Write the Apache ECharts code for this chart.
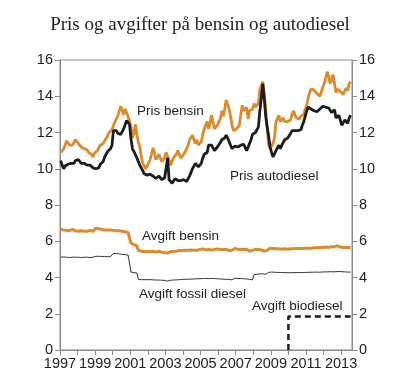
<!DOCTYPE html>
<html><head><meta charset="utf-8">
<script src="https://cdn.jsdelivr.net/npm/echarts@6/dist/echarts.min.js"></script>
<style>html,body{margin:0;padding:0;background:#fff}#c{width:400px;height:386px}</style>
</head><body><div id="c"></div>
<script>
// Monthly data, Jan 1997 - Jul 2013 (kr per litre)
var startYear = 1997;
var prisBensin = [
 10.9,10.95,11.1,11.3,11.55,11.5,11.3,11.35,11.3,11.45,11.6,11.5,
 11.4,11.3,11.2,11.25,11.1,11.0,11.05,10.9,10.95,10.8,10.65,10.85,
 10.9,11.0,11.15,11.3,11.25,11.4,11.55,11.6,11.8,12.0,12.05,12.15,
 12.2,12.6,12.5,12.9,13.2,13.45,13.2,13.0,13.3,13.1,12.9,12.6,
 12.3,11.7,11.95,12.45,11.9,11.5,11.2,10.7,10.3,10.2,10.0,10.1,
 10.3,10.5,10.8,11.15,10.9,10.5,10.6,10.8,10.7,10.4,10.3,10.6,
 10.9,10.8,10.5,10.2,10.3,10.6,10.5,10.8,11.0,10.8,10.6,10.7,
 10.8,10.9,11.1,11.3,11.6,11.7,11.85,11.6,11.4,11.6,11.3,11.25,
 11.5,11.9,12.2,12.15,12.6,12.2,12.5,12.95,12.6,12.2,12.1,12.4,
 12.6,12.75,13.2,12.9,13.3,13.8,13.75,13.3,12.9,12.4,12.1,12.15,
 12.2,12.3,12.4,13.0,13.5,13.2,13.3,13.4,12.75,13.2,13.1,13.3,
 13.6,13.4,13.3,13.6,14.35,14.6,14.8,14.1,13.3,12.2,11.3,11.1,
 11.2,11.4,11.7,12.6,12.7,12.95,12.6,12.5,12.8,12.6,12.5,12.6,
 12.65,12.7,13.0,13.2,12.95,12.8,12.7,12.75,12.9,12.85,13.0,13.3,
 13.5,13.9,14.2,14.4,14.45,14.35,14.3,14.15,14.2,14.0,14.1,14.5,
 14.7,15.0,15.35,15.1,14.7,14.9,15.2,14.7,14.2,14.4,14.35,14.25,
 14.2,14.1,14.3,14.45,14.3,14.7,14.8
];
var prisDiesel = [
 10.45,10.2,10.0,10.15,10.2,10.25,10.2,10.3,10.35,10.3,10.45,10.55,
 10.5,10.4,10.3,10.35,10.3,10.25,10.2,10.15,10.2,10.1,10.05,10.1,
 10.0,9.95,10.05,10.25,10.3,10.4,10.65,10.7,10.95,11.0,11.1,11.3,
 12.1,12.0,12.1,11.95,12.0,11.9,12.0,12.2,12.3,12.66,12.55,12.45,
 11.65,11.1,10.95,10.9,10.6,10.5,10.2,10.1,9.9,9.72,9.8,9.65,
 9.63,9.7,9.75,9.6,9.55,9.46,9.55,9.6,9.5,9.4,9.45,9.5,
 9.5,10.6,9.4,9.3,9.2,9.3,9.45,9.4,9.35,9.4,9.35,9.4,
 9.4,9.35,9.3,9.45,9.6,9.8,10.0,10.1,10.3,10.2,10.1,10.1,
 10.3,10.6,10.8,10.75,10.9,11.3,11.25,11.3,11.2,11.0,11.1,11.2,
 11.3,11.45,11.6,11.5,11.7,11.85,11.7,11.6,11.3,11.1,11.15,11.25,
 11.3,11.2,11.2,11.3,11.3,11.35,11.4,11.0,11.2,11.4,11.6,11.9,
 11.9,12.0,12.0,12.3,13.2,13.9,14.7,13.9,12.9,12.3,11.8,11.2,
 10.9,10.65,10.7,11.0,11.1,11.3,11.1,11.3,11.4,11.6,11.5,11.7,
 11.8,11.95,12.1,12.2,12.1,12.0,12.1,12.2,12.15,12.4,12.6,12.9,
 13.2,13.4,13.35,13.3,13.25,13.2,13.1,13.15,13.1,13.3,13.4,13.45,
 13.55,13.4,13.3,13.35,13.3,13.1,13.2,13.25,12.8,12.9,12.95,12.85,
 12.4,12.5,12.7,12.6,12.5,12.8,12.95
];
var avgiftBensin = [
 6.65,6.65,6.62,6.6,6.6,6.58,6.6,6.62,6.65,6.6,6.58,6.55,
 6.55,6.55,6.58,6.55,6.55,6.52,6.55,6.6,6.6,6.58,6.55,6.6,
 6.72,6.72,6.7,6.68,6.65,6.65,6.62,6.65,6.62,6.6,6.62,6.62,
 6.6,6.6,6.58,6.6,6.58,6.55,6.55,6.55,6.52,6.5,6.48,6.45,
 5.9,5.85,5.82,5.78,5.75,5.5,5.48,5.45,5.45,5.42,5.45,5.45,
 5.45,5.42,5.45,5.45,5.42,5.4,5.42,5.45,5.42,5.4,5.38,5.36,
 5.35,5.35,5.38,5.42,5.45,5.45,5.42,5.45,5.48,5.5,5.5,5.48,
 5.5,5.5,5.48,5.5,5.5,5.52,5.5,5.5,5.48,5.5,5.52,5.55,
 5.6,5.58,5.55,5.52,5.55,5.55,5.5,5.52,5.55,5.55,5.55,5.58,
 5.55,5.55,5.58,5.55,5.52,5.55,5.5,5.48,5.45,5.5,5.55,5.6,
 5.58,5.55,5.55,5.55,5.52,5.55,5.58,5.55,5.5,5.45,5.48,5.5,
 5.55,5.55,5.52,5.55,5.55,5.52,5.5,5.45,5.45,5.5,5.6,5.62,
 5.62,5.6,5.6,5.58,5.58,5.58,5.58,5.56,5.56,5.58,5.58,5.56,
 5.56,5.58,5.6,5.58,5.6,5.6,5.58,5.6,5.6,5.6,5.62,5.62,
 5.62,5.62,5.6,5.62,5.62,5.64,5.62,5.64,5.64,5.65,5.65,5.65,
 5.66,5.68,5.68,5.66,5.68,5.7,5.72,5.7,5.72,5.75,5.72,5.68,
 5.65,5.65,5.66,5.65,5.64,5.65,5.65
];
var avgiftFossil = [
 5.13,5.13,5.13,5.12,5.12,5.1,5.1,5.12,5.12,5.12,5.12,5.12,
 5.12,5.1,5.1,5.1,5.12,5.12,5.12,5.1,5.1,5.1,5.12,5.12,
 5.17,5.17,5.17,5.16,5.16,5.16,5.15,5.15,5.15,5.15,5.15,5.15,
 5.33,5.32,5.32,5.3,5.3,5.28,5.28,5.26,5.26,5.25,5.24,5.22,
 4.3,4.28,4.27,4.26,4.25,3.9,3.9,3.88,3.88,3.88,3.88,3.88,
 3.88,3.88,3.87,3.87,3.86,3.86,3.87,3.86,3.86,3.85,3.85,3.84,
 3.82,3.8,3.82,3.85,3.86,3.86,3.87,3.87,3.88,3.88,3.9,3.9,
 3.9,3.9,3.9,3.91,3.91,3.91,3.92,3.92,3.92,3.93,3.93,3.93,
 3.94,3.94,3.95,3.95,3.94,3.94,3.95,3.95,3.94,3.94,3.93,3.93,
 3.93,3.92,3.92,3.91,3.91,3.9,3.9,3.9,3.88,3.87,3.9,3.96,
 3.95,3.95,3.94,3.94,3.94,3.93,3.93,3.92,3.92,3.9,3.88,3.87,
 4.15,4.17,4.18,4.18,4.2,4.22,4.2,4.15,4.18,4.28,4.28,4.3,
 4.3,4.3,4.29,4.28,4.28,4.28,4.28,4.27,4.27,4.27,4.27,4.26,
 4.26,4.26,4.27,4.27,4.27,4.28,4.27,4.27,4.27,4.28,4.28,4.28,
 4.28,4.28,4.29,4.29,4.29,4.3,4.3,4.3,4.29,4.29,4.3,4.3,
 4.31,4.31,4.31,4.32,4.32,4.32,4.31,4.31,4.32,4.33,4.33,4.32,
 4.32,4.32,4.31,4.3,4.3,4.3,4.3
];
var bioDates = [2010.0, 2010.0, 2013.54];
var bioValues = [0, 1.85, 1.85];
var yTicks = [0, 2, 4, 6, 8, 10, 12, 14, 16];

function monthly(arr) {
  return arr.map(function (v, i) { return [startYear + (i + 0.5) / 12, v]; });
}
var bioData = bioDates.map(function (d, i) { return [d, bioValues[i]]; });

var ORANGE = '#dc8a2c', BLACK = '#1c1c1c', GREY = '#8a8a8a';
var FONT = 'Liberation Sans, Arial, sans-serif';

function lbl(text, x, y) {
  return {
    symbol: 'circle', symbolSize: 0, silent: true,
    data: [{ coord: [x, y], value: text }],
    label: { show: true, position: 'right', distance: 0, formatter: text,
      color: '#222', fontSize: 13.5, fontFamily: FONT }
  };
}

var yAxisBase = function (pos) {
  return {
    type: 'value', position: pos, min: yTicks[0], max: yTicks[yTicks.length - 1], interval: 2,
    axisLine: { show: true, lineStyle: { color: GREY, width: 1 } },
    axisTick: { show: true, inside: false, length: 5, lineStyle: { color: GREY } },
    splitLine: { show: false },
    axisLabel: { color: '#222', fontSize: 14.5, fontFamily: FONT, margin: 7 }
  };
};

var chart = echarts.init(document.getElementById('c'), null, { renderer: 'canvas' });
chart.setOption({
  animation: false,
  backgroundColor: '#fff',
  title: { text: 'Pris og avgifter på bensin og autodiesel', left: 'center', top: 11,
    textStyle: { fontFamily: 'Liberation Serif, Times New Roman, serif', fontSize: 19, fontWeight: 'normal', color: '#222' } },
  grid: { left: 60, right: 48, top: 60, bottom: 36, show: true, borderColor: GREY, borderWidth: 1 },
  xAxis: {
    type: 'value', min: 1997, max: 2013.62, interval: 1,
    axisLine: { show: true, onZero: false, lineStyle: { color: GREY } },
    axisTick: { show: true, length: 5, lineStyle: { color: GREY } },
    splitLine: { show: false },
    axisLabel: { color: '#222', fontSize: 14.5, fontFamily: FONT, margin: 6, showMaxLabel: false,
      formatter: function (v) { return ((v - 1997) % 2 === 0) ? String(v) : ''; } }
  },
  yAxis: [yAxisBase('left'), yAxisBase('right')],
  series: [
    { type: 'line', name: 'Avgift fossil diesel', data: monthly(avgiftFossil), showSymbol: false,
      lineStyle: { color: '#333', width: 1 }, markPoint: lbl('Avgift fossil diesel', 2001.5, 3.09) },
    { type: 'line', name: 'Avgift bensin', data: monthly(avgiftBensin), showSymbol: false,
      lineStyle: { color: ORANGE, width: 3 }, markPoint: lbl('Avgift bensin', 2001.67, 6.26) },
    { type: 'line', name: 'Avgift biodiesel', data: bioData, showSymbol: false,
      lineStyle: { color: BLACK, width: 2.5, type: [6, 4] }, markPoint: lbl('Avgift biodiesel', 2007.93, 2.43) },
    { type: 'line', name: 'Pris bensin', data: monthly(prisBensin), showSymbol: false,
      lineStyle: { color: ORANGE, width: 2.8 }, markPoint: lbl('Pris bensin', 2001.38, 13.17) },
    { type: 'line', name: 'Pris autodiesel', data: monthly(prisDiesel), showSymbol: false,
      lineStyle: { color: BLACK, width: 2.8 }, markPoint: lbl('Pris autodiesel', 2006.68, 9.57) }
  ]
});
</script></body></html>
